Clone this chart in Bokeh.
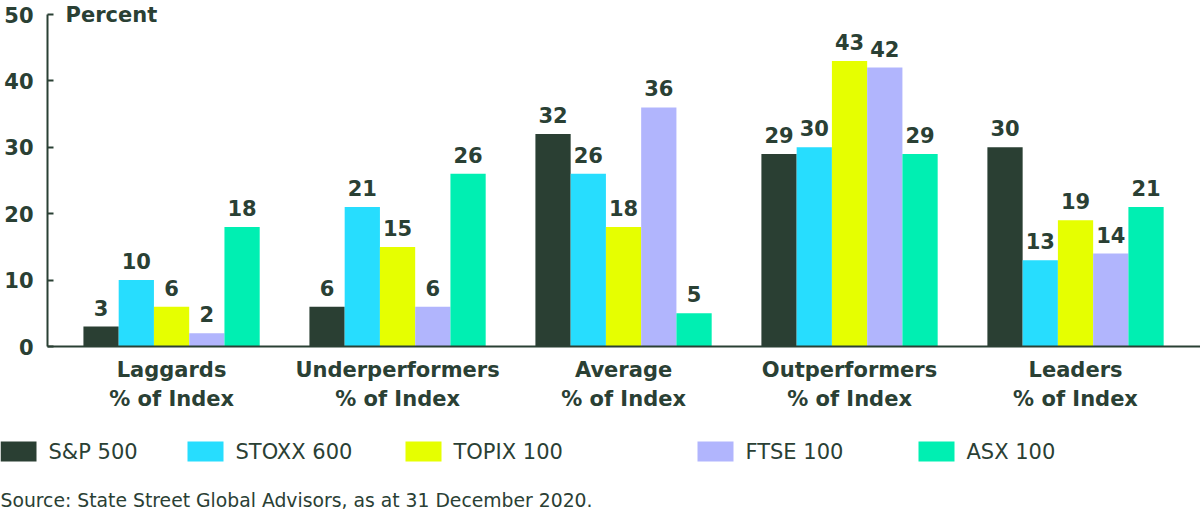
from bokeh.plotting import figure
from bokeh.models import Range1d, Label, FixedTicker, ColumnDataSource
from bokeh.transform import dodge
from bokeh.core.properties import value
from bokeh.embed import file_html
from bokeh.resources import INLINE

# ---- data ----
categories = ["Laggards\n% of Index", "Underperformers\n% of Index", "Average\n% of Index",
              "Outperformers\n% of Index", "Leaders\n% of Index"]
series_names = ["S&P 500", "STOXX 600", "TOPIX 100", "FTSE 100", "ASX 100"]
sp500 = [3, 6, 32, 29, 30]
stoxx600 = [10, 21, 26, 30, 13]
topix100 = [6, 15, 18, 43, 19]
ftse100 = [2, 6, 36, 42, 14]
asx100 = [18, 26, 5, 29, 21]
y_ticks = [0, 10, 20, 30, 40, 50]
source_note = "Source: State Street Global Advisors, as at 31 December 2020."
y_title = "Percent"

# ---- styles / layout ----
colors = ["#2a3f33", "#27ddfe", "#e6ff00", "#b1b5fd", "#00efb2"]
TXT = "#2a4034"
FONT = "DejaVu Sans"
BAR_W = 0.156
offsets = [-2 * BAR_W, -BAR_W, 0.0, BAR_W, 2 * BAR_W]
X_START, X_END = -0.549, 4.553
W = 1200
MAIN_H = 425
FRAME_LEFT, FRAME_BOTTOM = 47, 346
Y50_PX = 14                       # pixel row of the 50 tick
Y_END = 50 + 50 * Y50_PX / (FRAME_BOTTOM - Y50_PX)
legend_left = [0, 187, 405, 697, 918]   # px of each legend key's left edge
KEY_W, KEY_H, KEY_GAP = 36, 20, 12
LEGEND_MID = 451
SOURCE_MID = 500

values = [sp500, stoxx600, topix100, ftse100, asx100]
src = ColumnDataSource(dict(x=list(range(len(categories)))))
for i, v in enumerate(values):
    src.data[f"s{i}"] = v
    src.data[f"t{i}"] = [str(a) for a in v]

p = figure(width=W, height=MAIN_H, x_range=Range1d(X_START, X_END), y_range=Range1d(0, Y_END),
           output_backend="svg", toolbar_location=None,
           min_border_left=FRAME_LEFT, min_border_right=0, min_border_top=0,
           min_border_bottom=MAIN_H - FRAME_BOTTOM)
p.outline_line_color = None
p.grid.visible = False

for i in range(5):
    p.vbar(x=dodge("x", offsets[i], range=p.x_range), top=f"s{i}", width=BAR_W, source=src,
           fill_color=colors[i], line_color=None)
    p.text(x=dodge("x", offsets[i], range=p.x_range), y=f"s{i}", text=f"t{i}", source=src,
           text_align="center", text_baseline="bottom", y_offset=-11,
           text_font=value(FONT), text_font_style="bold", text_font_size="21px", text_color=TXT)

# y axis
ya = p.yaxis[0]
ya.ticker = FixedTicker(ticks=y_ticks)
ya.bounds = (0, 50)
ya.axis_line_color = TXT
ya.axis_line_width = 2
ya.major_tick_line_color = TXT
ya.major_tick_line_width = 2
ya.major_tick_in = 6
ya.major_tick_out = 0
ya.minor_tick_line_color = None
ya.major_label_standoff = 14
ya.major_label_text_font = FONT
ya.major_label_text_font_style = "bold"
ya.major_label_text_font_size = "21px"
ya.major_label_text_color = TXT

# x axis
xa = p.xaxis[0]
xa.ticker = FixedTicker(ticks=list(range(len(categories))))
xa.major_label_overrides = {i: c for i, c in enumerate(categories)}
xa.axis_line_color = TXT
xa.axis_line_width = 2
xa.major_tick_line_color = None
xa.minor_tick_line_color = None
xa.major_label_standoff = 5
xa.major_label_text_font = FONT
xa.major_label_text_font_style = "bold"
xa.major_label_text_font_size = "21px"
xa.major_label_text_color = TXT
xa.major_label_text_line_height = 1.22

p.add_layout(Label(x=X_START, y=50, x_offset=18, text=y_title, text_baseline="middle",
                   text_font=FONT, text_font_style="bold", text_font_size="21px", text_color=TXT))

# ---- legend + source strip (coordinates = page pixels) ----
leg = figure(width=W, height=512 - MAIN_H, x_range=Range1d(0, W), y_range=Range1d(512, MAIN_H),
             output_backend="svg", toolbar_location=None, min_border=0,
             min_border_left=0, min_border_right=0, min_border_top=0, min_border_bottom=0,
             x_axis_location=None, y_axis_location=None)
leg.grid.visible = False
leg.outline_line_color = None

lsrc = ColumnDataSource(dict(
    kx=[x + KEY_W / 2 for x in legend_left],
    tx=[x + KEY_W + KEY_GAP for x in legend_left],
    y=[LEGEND_MID] * len(series_names),
    name=series_names,
    color=colors,
))
leg.rect(x="kx", y="y", width=KEY_W, height=KEY_H, fill_color="color", line_color=None, source=lsrc)
leg.text(x="tx", y="y", text="name", source=lsrc, text_baseline="middle", text_align="left",
         text_font=value(FONT), text_font_size="21px", text_color=TXT)
leg.text(x=[0], y=[SOURCE_MID], text=[source_note], text_baseline="middle", text_align="left",
         text_font=value(FONT), text_font_size="18.8px", text_color=TXT)

# two independent roots stacked on the page (no frame alignment between them)
open("out.html", "w").write(file_html([p, leg], INLINE))
